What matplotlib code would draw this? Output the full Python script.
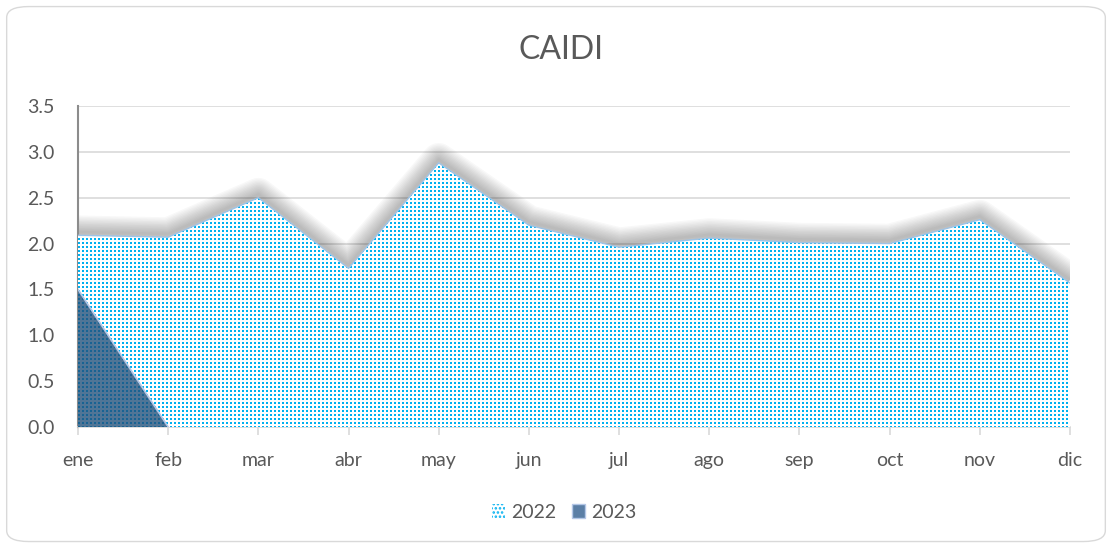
import matplotlib
matplotlib.use("Agg")
import matplotlib.pyplot as plt
from matplotlib.patches import FancyBboxPatch, Patch
import numpy as np

months = ["ene", "feb", "mar", "abr", "may", "jun", "jul", "ago", "sep", "oct", "nov", "dic"]
caidi_2022 = [2.09, 2.07, 2.50, 1.73, 2.88, 2.20, 1.96, 2.06, 2.01, 2.00, 2.26, 1.57]
caidi_2023 = [1.50, 0.0]
yticks = [0.0, 0.5, 1.0, 1.5, 2.0, 2.5, 3.0, 3.5]

plt.rcParams['font.family'] = ['Lato', 'DejaVu Sans']
plt.rcParams['hatch.linewidth'] = 1.2
plt.rcParams['hatch.color'] = '#00B0F0'

W, H = 1112, 547
fig = plt.figure(figsize=(W / 100, H / 100), dpi=100)
border = FancyBboxPatch((0.006, 0.01), 0.988, 0.978, boxstyle="round,pad=0,rounding_size=0.02",
                        transform=fig.transFigure, facecolor='none', edgecolor='#D9D9D9',
                        linewidth=1, zorder=-1)
fig.patches.append(border)

px_l, px_t, px_w, px_h = 78, 106, 992, 321
rect = [px_l / W, (H - px_t - px_h) / H, px_w / W, px_h / H]
ax = fig.add_axes(rect, zorder=0)
ax.set_facecolor('none')
x = np.arange(len(months))
n = len(months)

# soft shadow behind the 2022 top edge
for lw in np.linspace(2, 24, 12):
    ax.plot(x, np.array(caidi_2022) + 0.035, color='#202020', linewidth=lw, alpha=0.028,
            solid_joinstyle='round', solid_capstyle='butt', zorder=2)

# white base of the area (hides shadow underneath)
base = ax.fill_between(x, 0, caidi_2022, facecolor='white', linewidth=0, zorder=3)

ax.set_xlim(0, n - 1)
ax.set_ylim(0, 3.5)
ax.set_yticks(yticks)
ax.set_yticklabels([f"{v:.1f}" for v in yticks])
ax.set_xticks(x)
ax.set_xticklabels(months)
ax.yaxis.grid(True, color='#D9D9D9', linewidth=1.2, zorder=0)
ax.set_axisbelow(True)
for s in ['top', 'right']:
    ax.spines[s].set_visible(False)
ax.spines['left'].set_color('#8C8C8C')
ax.spines['left'].set_linewidth(1.5)
ax.spines['bottom'].set_color('#D9D9D9')
ax.spines['bottom'].set_linewidth(1.2)
ax.tick_params(axis='y', length=0, labelsize=14, labelcolor='#595959', pad=17)
ax.tick_params(axis='x', length=6, color='#D9D9D9', width=1.2, labelsize=14,
               labelcolor='#595959', pad=12)

# dotted texture (2x2 cyan squares every 4 px), placed pixel-exact and clipped to the area
tex = np.zeros((px_h, px_w, 4))
yy, xx = np.mgrid[0:px_h, 0:px_w]
mask = (xx % 4 < 2) & (yy % 4 < 2)
tex[mask] = matplotlib.colors.to_rgba('#00B0F0')
fim = fig.figimage(tex, xo=px_l, yo=H - px_t - px_h, origin='upper', zorder=1)
fim.set_clip_path(base.get_paths()[0], transform=ax.transData)

# overlay axes for edges and 2023 series
ax2 = fig.add_axes(rect, zorder=2)
ax2.set_facecolor('none')
ax2.axis('off')
ax2.set_xlim(0, n - 1)
ax2.set_ylim(0, 3.5)
ax2.plot(x, caidi_2022, color='#9DC3E6', linewidth=1, zorder=4)
x23 = x[:len(caidi_2023)]
ax2.fill_between(x23, 0, caidi_2023, facecolor='#1F4E79', alpha=0.78, linewidth=0, zorder=5)
ax2.plot(x23, caidi_2023, color='#B4C7E7', linewidth=1.2, zorder=6)

fig.text(561 / W, 1 - 50 / H, "CAIDI", ha='center', va='center', fontsize=23, color='#595959')

handles = [Patch(facecolor='white', edgecolor='#00B0F0', hatch='....', linewidth=0, label='2022'),
           Patch(facecolor='#5B7FA6', edgecolor='#B4C7E7', linewidth=1, label='2023')]
leg = fig.legend(handles=handles, loc='center', bbox_to_anchor=(564 / W, 1 - 512 / H), ncol=2,
                 frameon=False, fontsize=14, handlelength=0.7, handleheight=0.7,
                 handletextpad=0.3, columnspacing=0.8)
for t in leg.get_texts():
    t.set_color('#595959')

fig.savefig("out.png", dpi=100)
